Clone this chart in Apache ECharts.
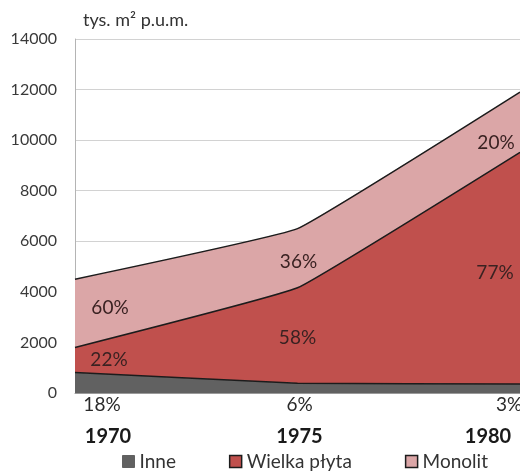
<!DOCTYPE html>
<html><head><meta charset="utf-8">
<script src="https://cdn.jsdelivr.net/npm/echarts@6/dist/echarts.min.js"></script>
<style>html,body{margin:0;padding:0;background:#fff}#c{width:520px;height:473px}</style>
</head><body><div id="c"></div>
<script>
// Housing completions by construction technology (thousand m² usable floor area)
const years = ['1970', '1975', '1980'];
const inne = [810, 390, 360];
const wielkaPlyta = [990, 3770, 9160];
const monolit = [2700, 2340, 2380];
const shareInne = ['18%', '6%', '3%'];
const shareWielkaPlyta = ['22%', '58%', '77%'];
const shareMonolit = ['60%', '36%', '20%'];
const yMin = 0, yMax = 14000, yStep = 2000;
const unitLabel = 'tys. m² p.u.m.';

const FONT = 'Lato, "Open Sans", sans-serif';
const COLORS = { inne: '#616161', plyta: '#c0504d', monolit: '#dba6a7' };
const EDGE = '#1c1c1c';

const chart = echarts.init(document.getElementById('c'), null, { renderer: 'canvas' });

function areaSeries(name, data, color, z) {
  return {
    name, type: 'line', stack: 'total', data, smooth: 0.08,
    symbol: 'none', z,
    lineStyle: { color: EDGE, width: 1.5 },
    areaStyle: { color, opacity: 1 },
    itemStyle: { color },
    emphasis: { disabled: true },
    animation: false
  };
}

chart.setOption({
  animation: false,
  backgroundColor: '#ffffff',
  grid: { left: 75, top: 39, bottom: 80, right: -5, containLabel: false },
  xAxis: {
    type: 'category', data: years, boundaryGap: false,
    axisLine: { show: true, lineStyle: { color: '#9a9a9a' } },
    axisTick: { show: false }, axisLabel: { show: false }, splitLine: { show: false }
  },
  yAxis: {
    type: 'value', min: yMin, max: yMax, interval: yStep,
    axisLine: { show: true, lineStyle: { color: '#b4b4b4' } },
    axisTick: { show: false },
    splitLine: { lineStyle: { color: '#d2d2d2', width: 1 } },
    axisLabel: { color: '#3a3a3a', fontSize: 16, fontFamily: FONT, margin: 18,
      formatter: v => String(v) }
  },
  legend: {
    left: 122, top: 452, padding: 0, icon: 'rect', itemWidth: 12, itemHeight: 12, itemGap: 53,
    textStyle: { fontSize: 19, color: '#333', fontFamily: FONT },
    data: [
      { name: 'Inne', itemStyle: { color: COLORS.inne, borderColor: COLORS.inne, borderWidth: 1 } },
      { name: 'Wielka płyta', itemStyle: { color: COLORS.plyta, borderColor: EDGE, borderWidth: 1.5 } },
      { name: 'Monolit', itemStyle: { color: COLORS.monolit, borderColor: EDGE, borderWidth: 1.5 } }
    ],
    selectedMode: false
  },
  series: [
    areaSeries('Inne', inne, COLORS.inne, 3),
    areaSeries('Wielka płyta', wielkaPlyta, COLORS.plyta, 2),
    areaSeries('Monolit', monolit, COLORS.monolit, 1)
  ]
});

// Text annotations anchored to the axes
const px = (i, v) => chart.convertToPixel({ gridIndex: 0 }, [i, v]);
const labels = [];
function text(x, y, str, style) {
  labels.push({
    type: 'text', x, y, z: 100,
    style: Object.assign({ text: str, fontFamily: FONT, fontSize: 19, fill: '#3a2222',
      align: 'center', verticalAlign: 'middle' }, style || {})
  });
}

const bandDx = [35, 1, -24];
const monolitDy = [-5, 4, 21];
const plytaDy = [0, 2, 5];
const pctDx = [27, 2, -11];
const yearDx = [33, 2, -32];

years.forEach((yr, i) => {
  const base1 = inne[i];
  const top1 = base1 + wielkaPlyta[i];
  const top2 = top1 + monolit[i];
  const pM = px(i, (top1 + top2) / 2);
  text(pM[0] + bandDx[i], pM[1] + monolitDy[i], shareMonolit[i]);
  const pP = px(i, (base1 + top1) / 2);
  text(pP[0] + bandDx[i] - 1, pP[1] + plytaDy[i], shareWielkaPlyta[i]);
  const p0 = px(i, 0);
  text(p0[0] + pctDx[i], p0[1] + 12, shareInne[i], { fill: '#2a2a2a' });
  text(p0[0] + yearDx[i], p0[1] + 44, yr, { fontWeight: 'bold', fill: '#1a1a1a', fontSize: 20 });
});

text(83, 20, unitLabel, { align: 'left', fontSize: 18, fill: '#333' });

chart.setOption({ graphic: { elements: labels } });
</script>
</body></html>
